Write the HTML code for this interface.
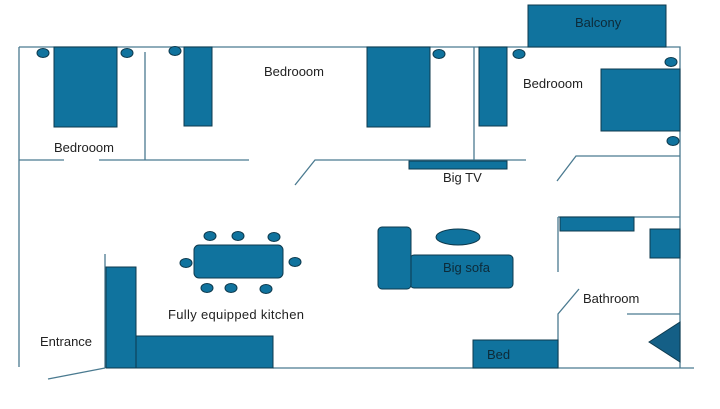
<!DOCTYPE html>
<html><head><meta charset="utf-8"><style>html,body{margin:0;padding:0;background:#fff}svg{display:block}</style></head>
<body>
<svg width="720" height="409" viewBox="0 0 720 409" xmlns="http://www.w3.org/2000/svg" font-family="Liberation Sans, sans-serif" font-size="13" fill="#222">
<g stroke="#4a7a90" stroke-width="1.3" fill="none">
<path d="M19 47H680V368"/>
<path d="M19 47V367"/>
<path d="M273 368H694"/>
<path d="M145 52V160"/>
<path d="M19 160H64M99 160H249"/>
<path d="M295 185L315 160H526"/>
<path d="M474 47V160"/>
<path d="M557 181L576 156H680"/>
<path d="M558 217V272M558 217H680"/>
<path d="M579 289L558 314V368"/>
<path d="M627 314H680"/>
<path d="M105 254V368"/>
<path d="M48 379L105 368"/>
</g>
<g fill="#10739e" stroke="#0d3a4e" stroke-width="1">
<rect x="54" y="47" width="63" height="80"/>
<ellipse cx="43" cy="53" rx="6" ry="4.5"/>
<ellipse cx="127" cy="53" rx="6" ry="4.5"/>
<ellipse cx="175" cy="51" rx="6" ry="4.5"/>
<rect x="184" y="47" width="28" height="79"/>
<rect x="367" y="47" width="63" height="80"/>
<ellipse cx="439" cy="54" rx="6" ry="4.5"/>
<rect x="409" y="161" width="98" height="8"/>
<rect x="479" y="47" width="28" height="79"/>
<ellipse cx="519" cy="54" rx="6" ry="4.5"/>
<rect x="528" y="5" width="138" height="42"/>
<rect x="601" y="69" width="79" height="62"/>
<ellipse cx="671" cy="62" rx="6" ry="4.5"/>
<ellipse cx="673" cy="141" rx="6" ry="4.5"/>
<rect x="560" y="217" width="74" height="14"/>
<rect x="650" y="229" width="30" height="29"/>
<polygon points="649,342 680,322 680,362" fill="#145f86"/>
<rect x="473" y="340" width="85" height="28"/>
<rect x="410" y="255" width="103" height="33" rx="4"/>
<rect x="378" y="227" width="33" height="62" rx="4"/>
<ellipse cx="458" cy="237" rx="22" ry="8"/>
<rect x="106" y="267" width="30" height="101"/>
<rect x="136" y="336" width="137" height="32"/>
<rect x="194" y="245" width="89" height="33" rx="5"/>
<ellipse cx="210" cy="236" rx="6" ry="4.5"/>
<ellipse cx="238" cy="236" rx="6" ry="4.5"/>
<ellipse cx="274" cy="237" rx="6" ry="4.5"/>
<ellipse cx="186" cy="263" rx="6" ry="4.5"/>
<ellipse cx="295" cy="262" rx="6" ry="4.5"/>
<ellipse cx="207" cy="288" rx="6" ry="4.5"/>
<ellipse cx="231" cy="288" rx="6" ry="4.5"/>
<ellipse cx="266" cy="289" rx="6" ry="4.5"/>
</g>
<text x="54" y="152">Bedrooom</text>
<text x="264" y="76">Bedrooom</text>
<text x="523" y="88">Bedrooom</text>
<text x="443" y="182">Big TV</text>
<text x="575" y="27" fill="#0d2a38">Balcony</text>
<text x="443" y="272" fill="#0d2a38">Big sofa</text>
<text x="583" y="303">Bathroom</text>
<text x="487" y="359" fill="#0d2a38">Bed</text>
<text x="168" y="319" textLength="136">Fully equipped kitchen</text>
<text x="40" y="346">Entrance</text>
</svg>
</body></html>
